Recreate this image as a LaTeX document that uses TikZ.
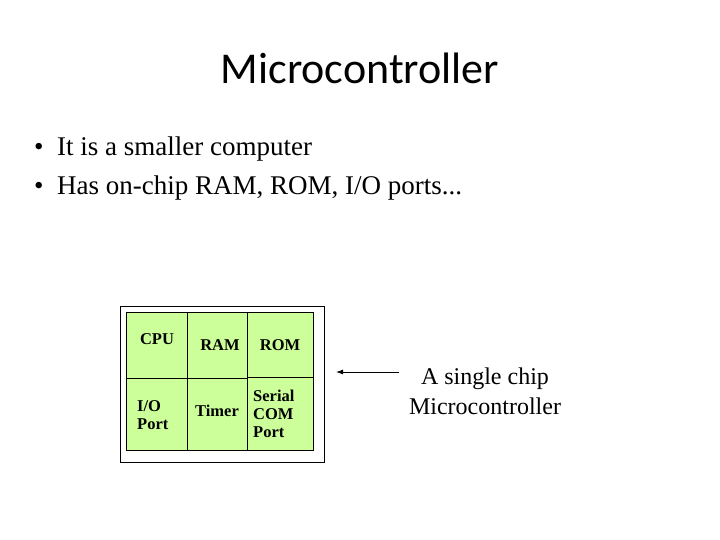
\documentclass[tikz,border=0pt]{standalone}
\usepackage{fontspec}
\setmainfont{Liberation Serif}
\newfontfamily\ttl{Carlito}
\usetikzlibrary{arrows.meta}
\begin{document}
\begin{tikzpicture}[x=1pt,y=-1pt,
  lab/.style={font=\fontsize{16.5}{17}\selectfont\bfseries,align=left,inner sep=0pt},
  txt/.style={font=\fontsize{27}{29}\selectfont,anchor=west,inner sep=0pt}]
\useasboundingbox (0,0) rectangle (720,540);
\node[font=\ttl\fontsize{44}{46}\selectfont] (title) at (360,68) {Microcontroller};
\node[txt] (b1) at (34,149) {\textbullet\ \ It is a smaller computer};
\node[txt] (b2) at (34,188) {\textbullet\ \ Has on-chip RAM, ROM, I/O ports...};
\draw[line width=0.6pt] (120,306) rectangle (324,462);
\definecolor{chipgreen}{HTML}{CCFF99}
\begin{scope}[every path/.style={draw=black,fill=chipgreen,line width=0.6pt}]
\path (126,312) rectangle (187,378);
\path (187,312) rectangle (247,378);
\path (247,312) rectangle (313,377);
\path (126,378) rectangle (187,450);
\path (187,378) rectangle (247,450);
\path (247,377) rectangle (313,450);
\end{scope}
\node[lab] (cpu) at (157,339) {CPU};
\node[lab] (ram) at (220,345) {RAM};
\node[lab] (rom) at (280,345) {ROM};
\node[lab,anchor=west] (io) at (137,415) {I/O\\[1pt]Port};
\node[lab] (timer) at (217,411) {Timer};
\node[lab,anchor=west] (ser) at (253,414) {Serial\\[1pt]COM\\[1pt]Port};
\node[font=\fontsize{24}{30}\selectfont,align=center] (lbl) at (485,391) {A single chip\\Microcontroller};
\coordinate (tip) at (336,372);
\draw[-{Latex[length=7pt,width=5pt]},line width=0.9pt] (399,372) -- (tip);
\end{tikzpicture}
\end{document}
